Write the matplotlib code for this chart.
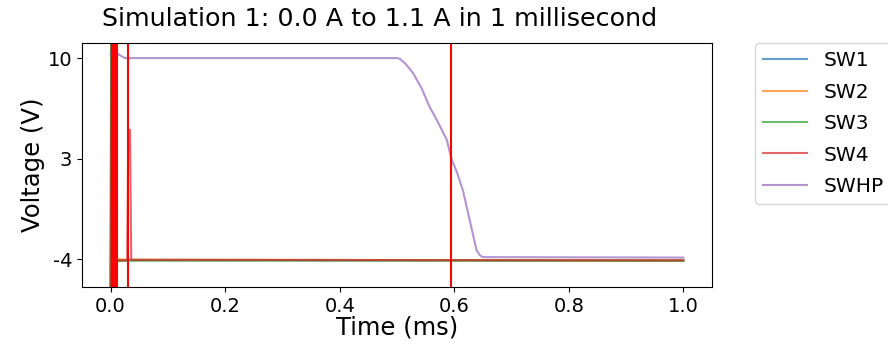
import matplotlib
matplotlib.use("Agg")
import matplotlib.pyplot as plt

plt.rcParams['axes.unicode_minus'] = False

# time in ms, voltage in V
t_sw1 = [0.0, 0.001, 0.004, 0.03, 1.0]
v_sw1 = [-6.5, 11.5, -4.1, -4.1, -4.1]

t_sw2 = [0.0, 0.003, 0.006, 0.010, 0.03, 1.0]
v_sw2 = [-6.5, 11.5, 10.5, -4.0, -4.05, -4.1]

t_sw3 = [0.0, 0.001, 0.003, 0.006, 0.03, 1.0]
v_sw3 = [-6.5, 11.5, 10.2, -4.15, -4.1, -4.12]

t_sw4 = [0.0, 0.002, 0.008, 0.029, 0.031, 0.034, 0.036, 1.0]
v_sw4 = [-6.5, 11.5, -4.1, -4.1, 5.0, 5.0, -4.05, -4.1]

t_swhp = [0.0, 0.012, 0.025, 0.50, 0.505, 0.515, 0.528, 0.543, 0.557, 0.572,
          0.587, 0.595, 0.605, 0.615, 0.627, 0.639, 0.645, 0.65, 1.0]
v_swhp = [10.3, 10.3, 10.0, 10.0, 9.95, 9.6, 8.96, 7.9, 6.6, 5.5,
          4.3, 3.0, 2.0, 0.8, -1.3, -3.4, -3.75, -3.87, -3.9]

markers = [0.003, 0.006, 0.009, 0.012, 0.031, 0.595]

series = [("SW1", t_sw1, v_sw1), ("SW2", t_sw2, v_sw2), ("SW3", t_sw3, v_sw3),
          ("SW4", t_sw4, v_sw4), ("SWHP", t_swhp, v_swhp)]


def main():
    fig = plt.figure(figsize=(8.88, 3.49), dpi=100)
    ax = fig.add_axes([0.0923, 0.1777, 0.7095, 0.699])

    for name, t, v in series:
        ax.plot(t, v, linewidth=1.5, alpha=0.7, label=name)

    for m in markers:
        ax.axvline(m, color='red', linewidth=1.5)

    ax.set_xlim(-0.05, 1.05)
    ax.set_ylim(-5.95, 11.05)
    ax.set_yticks([10, 3, -4])
    ax.set_xticks([0.0, 0.2, 0.4, 0.6, 0.8, 1.0])
    ax.tick_params(axis='both', labelsize=14)

    ax.set_xlabel("Time (ms)", fontsize=17.5, labelpad=0)
    ax.set_ylabel("Voltage (V)", fontsize=17.5, labelpad=2)
    ax.set_title("Simulation 1: 0.0 A to 1.1 A in 1 millisecond", fontsize=18.3,
                 pad=12, x=0.472)

    ax.legend(loc='upper left', bbox_to_anchor=(1.068, 1.0), borderaxespad=0,
              fontsize=14.5, labelspacing=0.62, handlelength=2.2)

    fig.savefig("out.png", dpi=100)


if __name__ == "__main__":
    main()
